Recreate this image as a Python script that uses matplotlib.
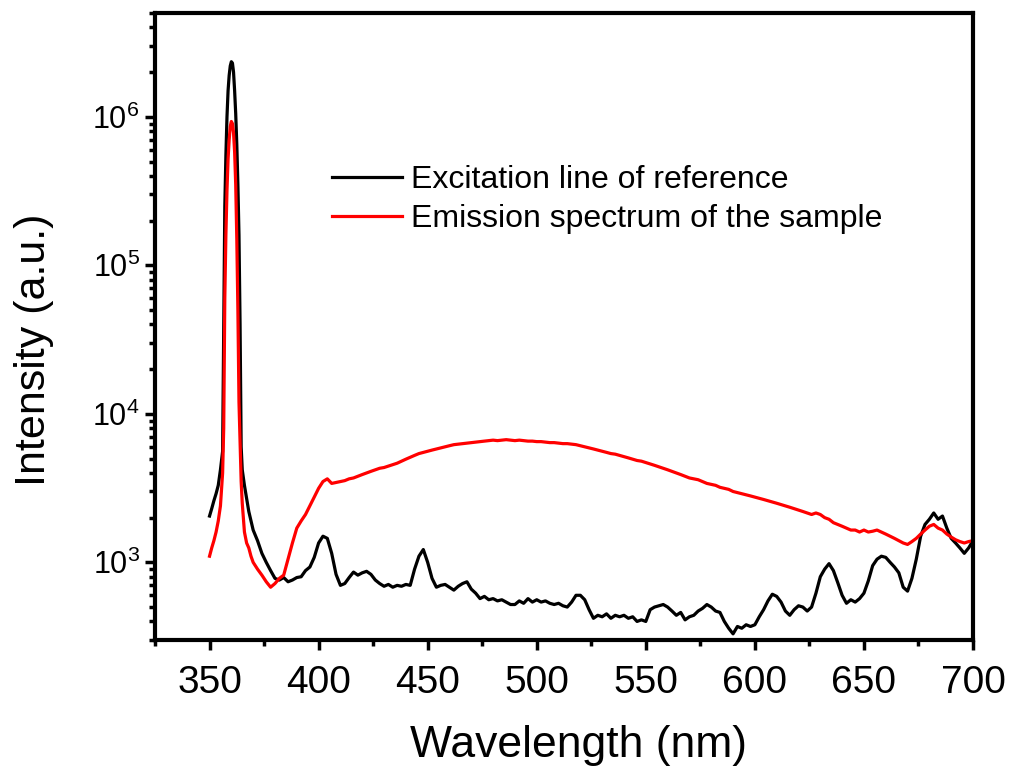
import matplotlib
matplotlib.use('Agg')
import matplotlib.pyplot as plt
from matplotlib.ticker import LogLocator, MultipleLocator, NullFormatter

plt.rcParams['font.family'] = ['Liberation Sans', 'DejaVu Sans']
plt.rcParams['mathtext.fontset'] = 'custom'
plt.rcParams['mathtext.rm'] = 'Liberation Sans'
plt.rcParams['mathtext.it'] = 'Liberation Sans'

# shared wavelength grid (nm)
wavelength = [
    350, 351, 352, 353, 354, 355, 356, 356.5, 357, 357.5, 358, 358.5, 359, 359.5,
    360, 360.5, 361, 361.5, 362, 362.5, 363, 363.5, 364, 364.5, 365, 366, 367, 368,
    369, 370, 372, 374, 376, 378, 380, 382, 384, 386, 388, 390, 392, 394, 396, 398,
    400, 402, 404, 406, 408, 410, 412, 414, 416, 418, 420, 422, 424, 426, 428, 430,
    432, 434, 436, 438, 440, 442, 444, 446, 448, 450, 452, 454, 456, 458, 460, 462,
    464, 466, 468, 470, 472, 474, 476, 478, 480, 482, 484, 486, 488, 490, 492, 494,
    496, 498, 500, 502, 504, 506, 508, 510, 512, 514, 516, 518, 520, 522, 524, 526,
    528, 530, 532, 534, 536, 538, 540, 542, 544, 546, 548, 550, 552, 554, 556, 558,
    560, 562, 564, 566, 568, 570, 572, 574, 576, 578, 580, 582, 584, 586, 588, 590,
    592, 594, 596, 598, 600, 602, 604, 606, 608, 610, 612, 614, 616, 618, 620, 622,
    624, 626, 628, 630, 632, 634, 636, 638, 640, 642, 644, 646, 648, 650, 652, 654,
    656, 658, 660, 662, 664, 666, 668, 670, 672, 674, 676, 678, 680, 682, 684, 686,
    688, 690, 692, 694, 696, 698, 700,
]

# excitation line of the reference (black)
excitation = [
    2050, 2300, 2600, 2900, 3300, 4200, 5600, 40000, 2.5e5, 5.5e5, 1.0e6, 1.5e6, 1.9e6, 2.2e6,
    2.35e6, 2.3e6, 2.0e6, 1.5e6, 1.05e6, 6.5e5, 3.5e5, 1.6e5, 40000, 6000, 4200, 3300, 2700, 2200,
    1900, 1650, 1400, 1150, 1000, 880, 780, 760, 790, 740, 760, 790, 800, 880, 930, 1080,
    1350, 1500, 1450, 1150, 830, 700, 720, 790, 860, 820, 850, 870, 830, 760, 720, 690,
    710, 680, 700, 690, 710, 700, 900, 1100, 1220, 1000, 780, 680, 700, 710, 680, 650,
    690, 720, 740, 660, 620, 570, 590, 560, 570, 550, 560, 540, 520, 520, 550, 530,
    570, 540, 560, 540, 550, 530, 520, 530, 510, 500, 540, 600, 600, 560, 480, 420,
    440, 430, 450, 420, 440, 430, 440, 420, 430, 400, 410, 400, 480, 500, 510, 520,
    500, 470, 440, 460, 410, 430, 440, 470, 490, 520, 500, 470, 460, 400, 360, 330,
    370, 360, 380, 370, 380, 430, 480, 550, 610, 590, 540, 470, 440, 480, 510, 500,
    470, 500, 620, 800, 900, 980, 880, 730, 600, 530, 560, 540, 570, 620, 750, 950,
    1050, 1100, 1080, 1000, 930, 850, 680, 640, 780, 1050, 1500, 1800, 1950, 2150, 1950, 2050,
    1700, 1450, 1350, 1250, 1150, 1250, 1400,
]

# emission spectrum of the sample (red)
emission = [
    1100, 1250, 1400, 1600, 1900, 2400, 4000, 8000, 60000, 1.6e5, 3.2e5, 5.2e5, 7.0e5, 8.6e5,
    9.3e5, 9.0e5, 7.8e5, 5.8e5, 3.5e5, 1.5e5, 50000, 12000, 6500, 3500, 2500, 1600, 1350, 1250,
    1100, 1000, 900, 820, 740, 680, 720, 780, 820, 1050, 1350, 1700, 1900, 2100, 2400, 2750,
    3150, 3500, 3650, 3400, 3450, 3500, 3550, 3650, 3700, 3800, 3900, 4000, 4100, 4200, 4300, 4350,
    4450, 4550, 4650, 4800, 4950, 5100, 5250, 5400, 5500, 5600, 5700, 5800, 5900, 6000, 6100, 6200,
    6250, 6300, 6350, 6400, 6450, 6500, 6550, 6600, 6650, 6600, 6650, 6700, 6650, 6600, 6650, 6600,
    6550, 6550, 6500, 6500, 6450, 6400, 6400, 6350, 6300, 6300, 6250, 6200, 6100, 6000, 5900, 5800,
    5700, 5600, 5500, 5400, 5350, 5250, 5150, 5050, 4950, 4850, 4800, 4700, 4600, 4500, 4400, 4300,
    4200, 4100, 4000, 3900, 3800, 3700, 3650, 3600, 3500, 3400, 3350, 3300, 3200, 3150, 3100, 3000,
    2950, 2900, 2850, 2800, 2750, 2700, 2650, 2600, 2550, 2500, 2450, 2400, 2350, 2300, 2250, 2200,
    2150, 2100, 2150, 2100, 2000, 1950, 1850, 1800, 1750, 1700, 1650, 1650, 1600, 1650, 1600, 1620,
    1650, 1600, 1550, 1500, 1450, 1400, 1350, 1320, 1380, 1450, 1550, 1650, 1750, 1800, 1700, 1650,
    1550, 1480, 1420, 1380, 1350, 1380, 1400,
]

labels = ['Excitation line of reference', 'Emission spectrum of the sample']

fig = plt.figure(figsize=(10.1, 7.76), dpi=100)
ax = fig.add_axes([155 / 1010, 1 - 640 / 776, 818 / 1010, 627 / 776])

ax.plot(wavelength, excitation, color='black', lw=2.3, label=labels[0])
ax.plot(wavelength, emission, color='#ff0000', lw=2.3, label=labels[1])

ax.set_yscale('log')
ax.set_xlim(325, 700)
ax.set_ylim(300, 5e6)

ax.xaxis.set_major_locator(MultipleLocator(50))
ax.xaxis.set_minor_locator(MultipleLocator(25))
ax.yaxis.set_major_locator(LogLocator(base=10, numticks=10))
ax.yaxis.set_minor_locator(LogLocator(base=10, subs=range(2, 10), numticks=20))
ax.yaxis.set_minor_formatter(NullFormatter())

for s in ax.spines.values():
    s.set_linewidth(3)
ax.tick_params(which='major', direction='out', length=7, width=2.5)
ax.tick_params(which='minor', direction='out', length=4, width=2.5)
ax.tick_params(axis='x', which='major', labelsize=28, pad=11)
ax.tick_params(axis='y', which='major', labelsize=22, pad=4)
ax.tick_params(top=False, right=False, which='both')

ax.set_xlabel('Wavelength (nm)', fontsize=32)
ax.set_ylabel('Intensity (a.u.)', fontsize=31)
ax.xaxis.set_label_coords(0.518, -0.136)
ax.yaxis.set_label_coords(-0.123, 0.4625)

ax.legend(loc='upper left', bbox_to_anchor=(0.2164, 0.758), frameon=False,
          fontsize=23, handlelength=2.2, handletextpad=0.28, labelspacing=0.3,
          borderaxespad=0, borderpad=0)

fig.savefig('out.png', dpi=100)
